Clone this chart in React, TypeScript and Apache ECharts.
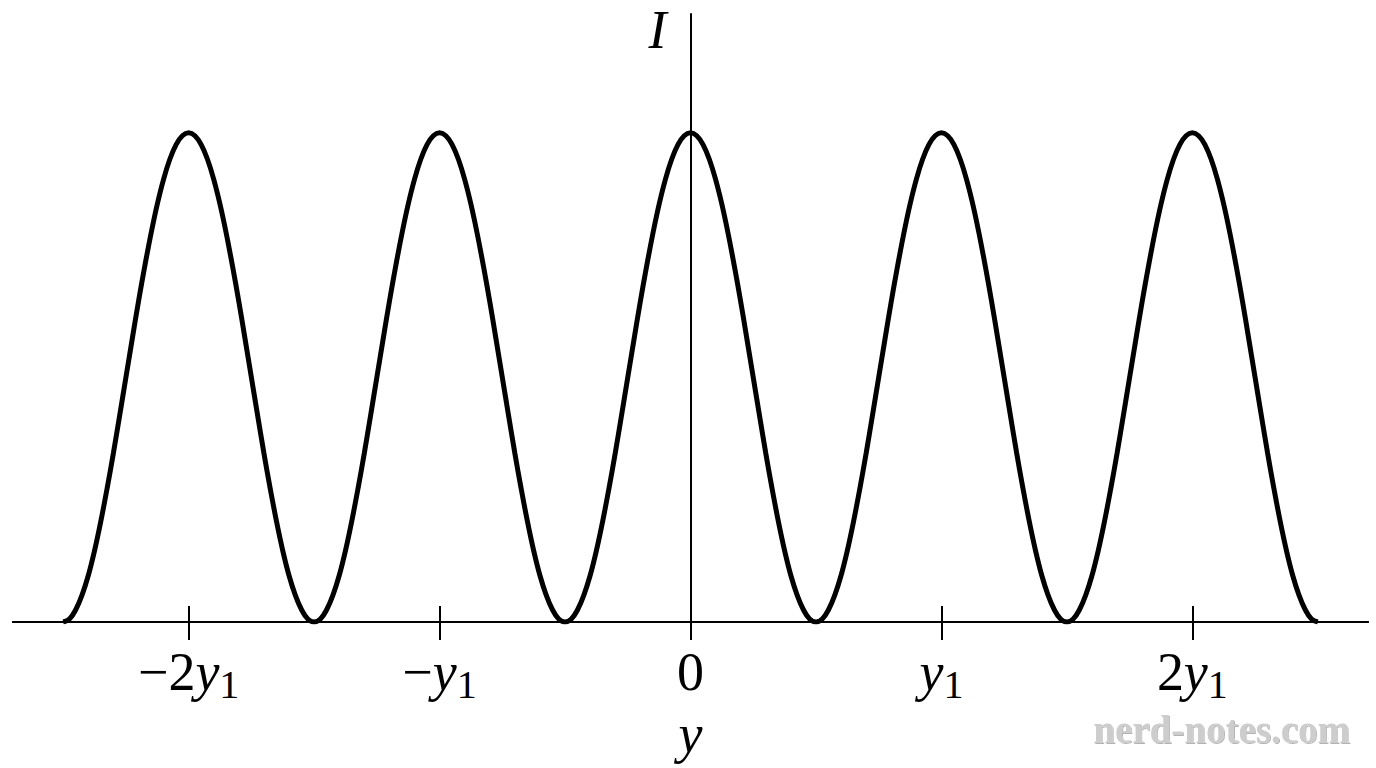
import React, { useEffect, useRef } from "react";
import * as echarts from "echarts";

// position along the screen, in units of y1
const positions = [
    -2.5, -2.475, -2.45, -2.425, -2.4, -2.375, -2.35, -2.325, -2.3, -2.275,
    -2.25, -2.225, -2.2, -2.175, -2.15, -2.125, -2.1, -2.075, -2.05, -2.025,
    -2, -1.975, -1.95, -1.925, -1.9, -1.875, -1.85, -1.825, -1.8, -1.775,
    -1.75, -1.725, -1.7, -1.675, -1.65, -1.625, -1.6, -1.575, -1.55, -1.525,
    -1.5, -1.475, -1.45, -1.425, -1.4, -1.375, -1.35, -1.325, -1.3, -1.275,
    -1.25, -1.225, -1.2, -1.175, -1.15, -1.125, -1.1, -1.075, -1.05, -1.025,
    -1, -0.975, -0.95, -0.925, -0.9, -0.875, -0.85, -0.825, -0.8, -0.775,
    -0.75, -0.725, -0.7, -0.675, -0.65, -0.625, -0.6, -0.575, -0.55, -0.525,
    -0.5, -0.475, -0.45, -0.425, -0.4, -0.375, -0.35, -0.325, -0.3, -0.275,
    -0.25, -0.225, -0.2, -0.175, -0.15, -0.125, -0.1, -0.075, -0.05, -0.025,
    0, 0.025, 0.05, 0.075, 0.1, 0.125, 0.15, 0.175, 0.2, 0.225,
    0.25, 0.275, 0.3, 0.325, 0.35, 0.375, 0.4, 0.425, 0.45, 0.475,
    0.5, 0.525, 0.55, 0.575, 0.6, 0.625, 0.65, 0.675, 0.7, 0.725,
    0.75, 0.775, 0.8, 0.825, 0.85, 0.875, 0.9, 0.925, 0.95, 0.975,
    1, 1.025, 1.05, 1.075, 1.1, 1.125, 1.15, 1.175, 1.2, 1.225,
    1.25, 1.275, 1.3, 1.325, 1.35, 1.375, 1.4, 1.425, 1.45, 1.475,
    1.5, 1.525, 1.55, 1.575, 1.6, 1.625, 1.65, 1.675, 1.7, 1.725,
    1.75, 1.775, 1.8, 1.825, 1.85, 1.875, 1.9, 1.925, 1.95, 1.975,
    2, 2.025, 2.05, 2.075, 2.1, 2.125, 2.15, 2.175, 2.2, 2.225,
    2.25, 2.275, 2.3, 2.325, 2.35, 2.375, 2.4, 2.425, 2.45, 2.475,
    2.5,
];

// relative intensity
const intensity = [
    0, 0.006, 0.025, 0.055, 0.095, 0.146, 0.206, 0.273, 0.345, 0.422,
    0.5, 0.578, 0.655, 0.727, 0.794, 0.854, 0.905, 0.946, 0.976, 0.994,
    1, 0.994, 0.976, 0.946, 0.905, 0.854, 0.794, 0.727, 0.655, 0.578,
    0.5, 0.422, 0.345, 0.273, 0.206, 0.146, 0.095, 0.055, 0.025, 0.006,
    0, 0.006, 0.025, 0.055, 0.095, 0.146, 0.206, 0.273, 0.345, 0.422,
    0.5, 0.578, 0.655, 0.727, 0.794, 0.854, 0.905, 0.946, 0.976, 0.994,
    1, 0.994, 0.976, 0.946, 0.905, 0.854, 0.794, 0.727, 0.655, 0.578,
    0.5, 0.422, 0.345, 0.273, 0.206, 0.146, 0.095, 0.055, 0.025, 0.006,
    0, 0.006, 0.025, 0.055, 0.095, 0.146, 0.206, 0.273, 0.345, 0.422,
    0.5, 0.578, 0.655, 0.727, 0.794, 0.854, 0.905, 0.946, 0.976, 0.994,
    1, 0.994, 0.976, 0.946, 0.905, 0.854, 0.794, 0.727, 0.655, 0.578,
    0.5, 0.422, 0.345, 0.273, 0.206, 0.146, 0.095, 0.055, 0.025, 0.006,
    0, 0.006, 0.025, 0.055, 0.095, 0.146, 0.206, 0.273, 0.345, 0.422,
    0.5, 0.578, 0.655, 0.727, 0.794, 0.854, 0.905, 0.946, 0.976, 0.994,
    1, 0.994, 0.976, 0.946, 0.905, 0.854, 0.794, 0.727, 0.655, 0.578,
    0.5, 0.422, 0.345, 0.273, 0.206, 0.146, 0.095, 0.055, 0.025, 0.006,
    0, 0.006, 0.025, 0.055, 0.095, 0.146, 0.206, 0.273, 0.345, 0.422,
    0.5, 0.578, 0.655, 0.727, 0.794, 0.854, 0.905, 0.946, 0.976, 0.994,
    1, 0.994, 0.976, 0.946, 0.905, 0.854, 0.794, 0.727, 0.655, 0.578,
    0.5, 0.422, 0.345, 0.273, 0.206, 0.146, 0.095, 0.055, 0.025, 0.006,
    0,
];

const tickValues = [-2, -1, 0, 1, 2];
const tickLabels = ["−2y1", "−y1", "0", "y1", "2y1"];

const xName = "y";
const yName = "I";
const watermark = "nerd-notes.com";

const SERIF = "'Liberation Serif', 'DejaVu Serif', serif";

// "2y1" -> upright prefix, italic y, subscript 1
const formatTick = (value: number) => {
    const label = tickLabels[tickValues.indexOf(value)] ?? "";
    if (!label.endsWith("y1")) return `{n|${label}}`;
    const prefix = label.slice(0, -2);
    return (prefix ? `{n|${prefix}}` : "") + "{v|y}{s|1}";
};

const App: React.FC = () => {
    const chartRef = useRef<HTMLDivElement>(null);

    useEffect(() => {
        if (!chartRef.current) return;
        const chart = echarts.init(chartRef.current, null, { renderer: "svg" });

        const lineStyle = { color: "#000", width: 2 };

        chart.setOption({
            animation: false,
            backgroundColor: "#fff",
            grid: { left: 13, right: 8, top: 14, bottom: 146, outerBoundsMode: "none" },
            xAxis: [
                {
                    type: "value",
                    position: "bottom",
                    min: -2.7,
                    max: 2.7,
                    axisLine: { onZero: true, onZeroAxisIndex: 0, lineStyle },
                    axisTick: { show: true, inside: false, length: 18, customValues: tickValues, lineStyle },
                    axisLabel: {
                        customValues: tickValues,
                        margin: 28,
                        formatter: formatTick,
                        rich: {
                            n: { fontFamily: SERIF, fontSize: 54, color: "#000", lineHeight: 44 },
                            v: { fontFamily: SERIF, fontStyle: "italic", fontSize: 54, color: "#000", lineHeight: 44 },
                            // padding on top pushes the subscript below the baseline
                            s: { fontFamily: SERIF, fontSize: 40, color: "#000", lineHeight: 44, padding: [24, 0, 0, 0] },
                        },
                    },
                    splitLine: { show: false },
                    name: xName,
                    nameLocation: "middle",
                    nameGap: 85,
                    nameMoveOverlap: false,
                    nameTextStyle: { fontFamily: SERIF, fontStyle: "italic", fontSize: 54, color: "#000" },
                },
                {
                    // upper half of the crossing ticks
                    type: "value",
                    position: "top",
                    min: -2.7,
                    max: 2.7,
                    axisLine: { onZero: true, onZeroAxisIndex: 0, lineStyle },
                    axisTick: { show: true, inside: false, length: 16, customValues: tickValues, lineStyle },
                    axisLabel: { show: false },
                    splitLine: { show: false },
                },
            ],
            yAxis: {
                type: "value",
                min: 0,
                max: 1.243,
                axisLine: { show: true, onZero: true, lineStyle },
                axisTick: { show: false },
                axisLabel: { show: false },
                splitLine: { show: false },
                name: yName,
                nameLocation: "end",
                nameGap: -43,
                nameTextStyle: {
                    fontFamily: SERIF,
                    fontStyle: "italic",
                    fontSize: 54,
                    color: "#000",
                    padding: [0, 66, 0, 0],
                },
            },
            series: [
                {
                    type: "line",
                    data: positions.map((p, i) => [p, intensity[i]]),
                    showSymbol: false,
                    symbol: "none",
                    smooth: 0.4,
                    lineStyle: { color: "#000", width: 5 },
                },
            ],
            graphic: [
                {
                    type: "text",
                    right: 26,
                    top: 710,
                    style: {
                        text: watermark,
                        font: `bold 39px ${SERIF}`,
                        fill: "#cdcdcd",
                        textShadowColor: "rgba(0,0,0,0.3)",
                        textShadowOffsetX: 1,
                        textShadowOffsetY: 1,
                        textShadowBlur: 1,
                    },
                },
            ],
        });

        return () => {
            chart.dispose();
        };
    }, []);

    return (
        <div
            ref={chartRef}
            style={{ position: "fixed", left: 0, top: 0, width: 1376, height: 768 }}
        />
    );
};

export default App;
